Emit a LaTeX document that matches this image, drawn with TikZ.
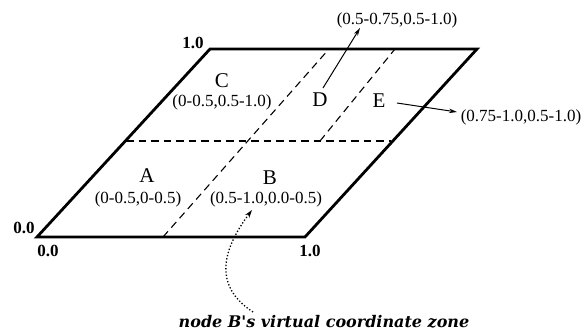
\documentclass[tikz,border=0pt]{standalone}
\usepackage{fontspec}
\setmainfont{Liberation Serif}
\newfontfamily\notefont{DejaVu Serif}
\usetikzlibrary{arrows.meta}
\begin{document}
\begin{tikzpicture}[x=1pt,y=-1pt,
  border/.style={line width=2.8pt, line join=miter},
  dashline/.style={line width=1.1pt, dash pattern=on 7.5pt off 5pt},
  coordlbl/.style={font=\fontsize{17}{17}\selectfont, inner sep=0pt},
  zonelbl/.style={font=\fontsize{21}{21}\selectfont, inner sep=0pt},
  cornerlbl/.style={font=\bfseries\fontsize{17}{17}\selectfont, inner sep=0pt},
  notelbl/.style={font=\notefont\bfseries\itshape\fontsize{16}{16}\selectfont, inner sep=0pt},
  ptr/.style={line width=1pt, -{Stealth[length=8pt,width=4.5pt]}},
  dotptr/.style={line width=1.3pt, dotted, -{Stealth[length=8pt,width=5pt]}}]
\useasboundingbox (0,0) rectangle (584,332);
% corners of the space
\coordinate (p00) at (37,237);
\coordinate (p10) at (305,237);
\coordinate (p11) at (477,49);
\coordinate (p01) at (210,49);
% zone boundaries
\coordinate (hl) at (126,141);
\coordinate (hr) at (391,141);
\coordinate (v1b) at (163,237);
\coordinate (v1t) at (329,49);
\coordinate (v2b) at (320,141);
\coordinate (v2t) at (395,49);
\draw[dashline] (hl) -- (hr);
\draw[dashline] (v1b) -- (v1t);
\draw[dashline] (v2b) -- (v2t);
\draw[border] (p00) -- (p10) -- (p11) -- (p01) -- cycle;
% corner labels
\node[cornerlbl] (c01) at (193,43) {1.0};
\node[cornerlbl] (c00l) at (24,228) {0.0};
\node[cornerlbl] (c00b) at (48,251) {0.0};
\node[cornerlbl] (c10) at (310,251) {1.0};
% zones
\node[zonelbl] (A) at (147,176) {A};
\node[coordlbl] (Ac) at (138,199) {(0-0.5,0-0.5)};
\node[zonelbl] (B) at (270,178) {B};
\node[coordlbl] (Bc) at (266,199) {(0.5-1.0,0.0-0.5)};
\node[zonelbl] (C) at (222,81) {C};
\node[coordlbl] (Cc) at (222,102) {(0-0.5,0.5-1.0)};
\node[zonelbl] (D) at (320,100) {D};
\node[zonelbl] (E) at (379,101) {E};
\node[coordlbl] (Dc) at (397,20) {(0.5-0.75,0.5-1.0)};
\node[coordlbl] (Ec) at (521,117) {(0.75-1.0,0.5-1.0)};
\node[notelbl] (note) at (324,322) {node B's virtual coordinate zone};
% pointers
\coordinate (dstart) at (323,88);
\coordinate (dtip) at (360,28);
\coordinate (estart) at (397,103);
\coordinate (etip) at (457,112);
\coordinate (nstart) at (253,312);
\coordinate (ntip) at (252,210);
\draw[ptr] (dstart) -- (dtip);
\draw[ptr] (estart) -- (etip);
\draw[dotptr] (nstart) .. controls (213,286) and (222,250) .. (ntip);
\end{tikzpicture}
\end{document}
